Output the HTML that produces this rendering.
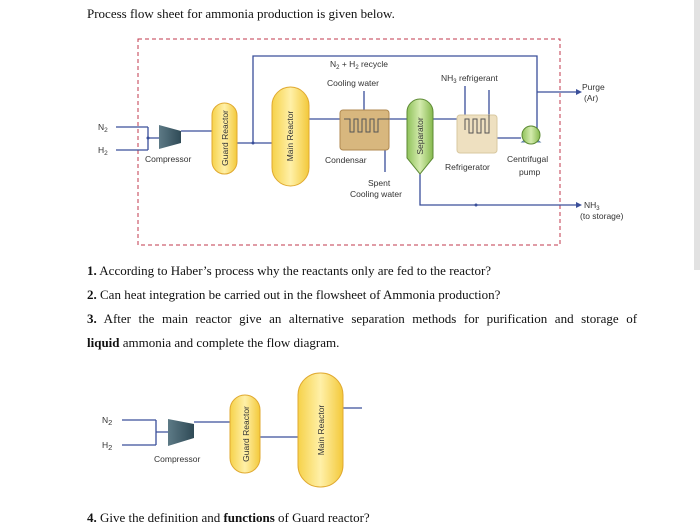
<!DOCTYPE html>
<html><head><meta charset="utf-8"><style>
html,body{margin:0;padding:0;background:#fff;width:700px;height:531px;overflow:hidden}
svg{display:block}
.s{font-family:"Liberation Serif",serif;font-size:13px;fill:#111}
.d{font-family:"Liberation Sans",sans-serif;font-size:8.5px;fill:#333}
.l{stroke:#3a4f9a;stroke-width:1.3;fill:none}
</style></head><body>
<svg width="700" height="531" viewBox="0 0 700 531">
<defs>
<linearGradient id="y" x1="0" x2="1"><stop offset="0" stop-color="#f6d24a"/><stop offset=".5" stop-color="#fff0a8"/><stop offset="1" stop-color="#f3c93a"/></linearGradient>
<linearGradient id="g" x1="0" x2="1"><stop offset="0" stop-color="#8fc25a"/><stop offset=".5" stop-color="#d4ebae"/><stop offset="1" stop-color="#86b94e"/></linearGradient>
<linearGradient id="c" x1="0" x2="1"><stop offset="0" stop-color="#5d7a86"/><stop offset="1" stop-color="#2f4a56"/></linearGradient>
</defs>
<rect width="700" height="531" fill="#fff"/>
<rect x="694" y="0" width="6" height="270" fill="#e2e2e2"/>
<text class="s" x="87" y="18">Process flow sheet for ammonia production is given below.</text>
<rect x="138" y="39" width="422" height="206" fill="none" stroke="#c0394d" stroke-width="1" stroke-dasharray="4,3"/>
<path class="l" d="M116 127H148M116 150H148M148 127V150M148 138H159M181 131H212M237 143H272M253 143V56H537V135M537 92H576M309 119H340M389 119H407M433 119H457M497 138H521M420 174V205H576M364 91V110M385 150V172M465 86V130M489 90V115"/>
<polygon points="159,125 181,131 181,143 159,149" fill="url(#c)"/>
<rect x="212" y="103" width="25" height="71" rx="12.5" fill="url(#y)" stroke="#e0a930"/>
<text class="d" transform="translate(228,138) rotate(-90)" text-anchor="middle" font-size="7">Guard Reactor</text>
<rect x="272" y="87" width="37" height="99" rx="18.5" fill="url(#y)" stroke="#e0a930"/>
<text class="d" transform="translate(293,136) rotate(-90)" text-anchor="middle" font-size="7">Main Reactor</text>
<rect x="340" y="110" width="49" height="40" rx="3" fill="#d8b77e" stroke="#b08a50"/>
<path d="M344 119H350V132H354V119H358V132H362V119H366V132H370V119H374V132H378V119H389" stroke="#555" fill="none"/>
<path d="M407 112A13 13 0 0 1 433 112V158L420 174L407 158Z" fill="url(#g)" stroke="#5d8a34"/>
<text class="d" transform="translate(423,136) rotate(-90)" text-anchor="middle" font-size="7">Separator</text>
<rect x="457" y="115" width="40" height="38" rx="3" fill="#eee0c0" stroke="#d8c8a0"/>
<path d="M465 130V119H469V133H473V119H477V133H481V119H485V133H489V115" stroke="#555" fill="none"/>
<polygon points="522,142 540,142 531,135" fill="#a9c7e0" stroke="#5e7fa8"/>
<circle cx="531" cy="135" r="9" fill="url(#g)" stroke="#5d8a34"/>
<g fill="#3a4f9a"><circle cx="148" cy="138" r="1.5"/><circle cx="253" cy="143" r="1.5"/><circle cx="476" cy="205" r="1.5"/></g>
<polygon points="576,89 582,92 576,95" fill="#3a4f9a"/><polygon points="576,202 582,205 576,208" fill="#3a4f9a"/>
<text class="d" x="98" y="130" font-size="9.5">N<tspan font-size="6.5" dy="2">2</tspan></text>
<text class="d" x="98" y="153" font-size="9.5">H<tspan font-size="6.5" dy="2">2</tspan></text>
<text class="d" x="145" y="162">Compressor</text>
<text class="d" x="330" y="67">N<tspan font-size="6" dy="2">2</tspan><tspan dy="-2"> + H</tspan><tspan font-size="6" dy="2">2</tspan><tspan dy="-2"> recycle</tspan></text>
<text class="d" x="327" y="86">Cooling water</text>
<text class="d" x="441" y="81">NH<tspan font-size="6" dy="2">3</tspan><tspan dy="-2"> refrigerant</tspan></text>
<text class="d" x="325" y="163">Condensar</text>
<text class="d" x="368" y="186">Spent</text>
<text class="d" x="350" y="197">Cooling water</text>
<text class="d" x="445" y="170">Refrigerator</text>
<text class="d" x="507" y="162">Centrifugal</text>
<text class="d" x="519" y="175">pump</text>
<text class="d" x="582" y="90">Purge</text>
<text class="d" x="584" y="101">(Ar)</text>
<text class="d" x="584" y="208">NH<tspan font-size="6" dy="2">3</tspan></text>
<text class="d" x="580" y="219">(to storage)</text>
<text class="s" x="87" y="275"><tspan font-weight="bold">1.</tspan> According to Haber’s process why the reactants only are fed to the reactor?</text>
<text class="s" x="87" y="299"><tspan font-weight="bold">2.</tspan> Can heat integration be carried out in the flowsheet of Ammonia production?</text>
<text class="s" x="87" y="323" word-spacing="4.3"><tspan font-weight="bold">3.</tspan> After the main reactor give an alternative separation methods for purification and storage of</text>
<text class="s" x="87" y="347"><tspan font-weight="bold">liquid</tspan> ammonia and complete the flow diagram.</text>
<path class="l" d="M122 420H156M122 445H156M156 420V445M156 432H168M194 422H230M260 437H298M343 408H362"/>
<polygon points="168,419 194,424 194,438 168,446" fill="url(#c)"/>
<rect x="230" y="395" width="30" height="78" rx="15" fill="url(#y)" stroke="#e0a930"/>
<text class="d" transform="translate(249,434) rotate(-90)" text-anchor="middle" font-size="7.5">Guard Reactor</text>
<rect x="298" y="373" width="45" height="114" rx="22" fill="url(#y)" stroke="#e0a930"/>
<text class="d" transform="translate(324,430) rotate(-90)" text-anchor="middle" font-size="7.5">Main Reactor</text>
<text class="d" x="102" y="423" font-size="11">N<tspan font-size="7.5" dy="2">2</tspan></text>
<text class="d" x="102" y="448" font-size="11">H<tspan font-size="7.5" dy="2">2</tspan></text>
<text class="d" x="154" y="462" font-size="9.5">Compressor</text>
<text class="s" x="87" y="522"><tspan font-weight="bold">4.</tspan> Give the definition and <tspan font-weight="bold">functions</tspan> of Guard reactor?</text>
</svg>
</body></html>
